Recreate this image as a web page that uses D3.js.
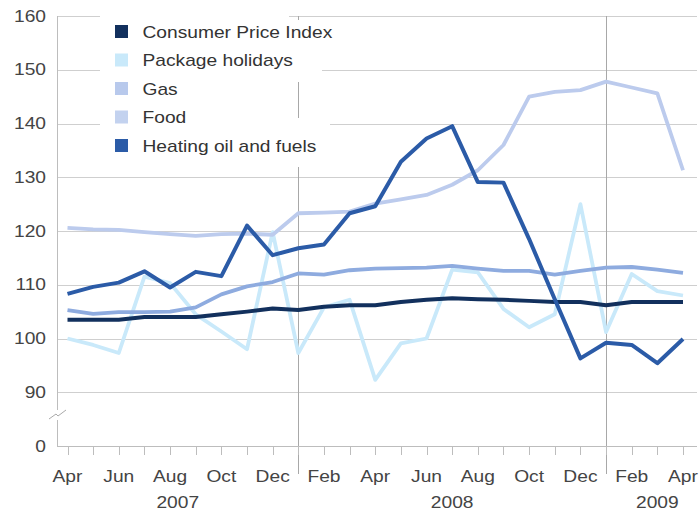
<!DOCTYPE html>
<html>
<head>
<meta charset="utf-8">
<script src="https://cdn.jsdelivr.net/npm/d3@7"></script>
<style>
  body { margin: 0; background: #fff; }
  text { font-family: "Liberation Sans", Arial, sans-serif; }
</style>
</head>
<body>
<script>
let width = 699;
let height = 515;

// Apr 2007 .. Apr 2009, monthly
let months = ['Apr','May','Jun','Jul','Aug','Sep','Oct','Nov','Dec','Jan','Feb','Mar',
              'Apr','May','Jun','Jul','Aug','Sep','Oct','Nov','Dec','Jan','Feb','Mar','Apr'];
// month index where each year starts / ends on the axis
let years = [{label: '2007', from: -0.4, to: 9}, {label: '2008', from: 9, to: 21}, {label: '2009', from: 21, to: 25}];
let yTicks = [90, 100, 110, 120, 130, 140, 150, 160];

let cpi = [103.5, 103.5, 103.5, 104, 104, 104, 104.5, 105, 105.6, 105.3, 105.9, 106.2, 106.2,
           106.8, 107.2, 107.5, 107.3, 107.2, 107, 106.8, 106.8, 106.2, 106.8, 106.8, 106.8];
let holidays = [100, 98.8, 97.3, 111.5, 110.3, 104.5, 101.3, 98, 119.8, 97.3, 105.8, 107.2, 92.3,
                99.1, 100, 112.8, 112.3, 105.5, 102.1, 104.5, 125, 101.2, 112, 108.8, 108];
let gas = [120.6, 120.3, 120.2, 119.8, 119.4, 119.1, 119.4, 119.5, 119.3, 123.3, 123.4, 123.6, 125.1,
           125.9, 126.7, 128.6, 131.3, 136, 145, 145.9, 146.2, 147.8, 146.7, 145.6, 131.3];
let food = [105.3, 104.6, 104.9, 104.9, 105, 105.8, 108.2, 109.7, 110.5, 112.1, 111.9, 112.7, 113,
            113.1, 113.2, 113.5, 113, 112.6, 112.6, 111.9, 112.6, 113.2, 113.3, 112.8, 112.2];
let heating = [108.3, 109.6, 110.4, 112.5, 109.5, 112.4, 111.6, 121, 115.5, 116.8, 117.5, 123.3, 124.6,
               132.9, 137.2, 139.5, 129.1, 129, 118.5, 107.3, 96.3, 99.2, 98.8, 95.4, 99.9];

let seriesNames = ['Consumer Price Index', 'Package holidays', 'Gas', 'Food', 'Heating oil and fuels'];
let seriesData = [cpi, holidays, gas, food, heating];
let seriesColors = ['#12305d', '#c9e9fa', '#bccbed', '#8eabdf', '#2b5ba7'];
let swatchColors = ['#12305d', '#c9e9fa', '#b8c9ec', '#c3d2ef', '#2b5ba7'];
// drawing order (back to front)
let drawOrder = [1, 2, 3, 0, 4];

let plotLeft = 57, plotRight = 697, plotTop = 16, plotBottom = 446;
let fontSize = 16, stretch = 1.2;   // text in the original is a little wide

let svg = d3.select('body').append('svg')
            .attr('width', width)
            .attr('height', height);

let xScale = d3.scaleLinear().domain([0, 24]).range([67.5, 683]);
// broken axis: the '0' tick sits where 80 would be
let yScale = d3.scaleLinear().domain([80, 160]).range([plotBottom, plotTop]);

function placeText(sel, x, y) {
    sel.attr('transform', function(d, i) {
        return 'translate(' + x(d, i) + ',' + y(d, i) + ') scale(' + stretch + ',1)';
    });
}

// horizontal gridlines
svg.append('g').selectAll('line')
    .data(yTicks)
    .enter()
    .append('line')
    .attr('x1', plotLeft)
    .attr('x2', plotRight)
    .attr('y1', function(d) { return Math.round(yScale(d)) + 0.5; })
    .attr('y2', function(d) { return Math.round(yScale(d)) + 0.5; })
    .attr('stroke', '#cfcfcf')
    .attr('stroke-width', 1.2);

// year dividers at January
svg.append('g').selectAll('line')
    .data([9, 21])
    .enter()
    .append('line')
    .attr('x1', function(d) { return Math.round(xScale(d)) + 0.5; })
    .attr('x2', function(d) { return Math.round(xScale(d)) + 0.5; })
    .attr('y1', plotTop)
    .attr('y2', 474)
    .attr('stroke', '#a8a8a8')
    .attr('stroke-width', 1);

// white patches behind the legend
let patches = [[100, 8, 189, 12], [100, 20, 242, 26], [100, 46, 222, 36], [100, 82, 100, 36], [100, 118, 230, 49]];
svg.append('g').selectAll('rect')
    .data(patches)
    .enter()
    .append('rect')
    .attr('x', function(d) { return d[0]; })
    .attr('y', function(d) { return d[1]; })
    .attr('width', function(d) { return d[2]; })
    .attr('height', function(d) { return d[3]; })
    .attr('fill', '#fff');

// y axis line + bottom axis line
svg.append('line')
    .attr('x1', plotLeft + 0.5).attr('x2', plotLeft + 0.5)
    .attr('y1', plotTop).attr('y2', plotBottom)
    .attr('stroke', '#bdbdbd');
svg.append('line')
    .attr('x1', plotLeft).attr('x2', plotRight)
    .attr('y1', plotBottom + 0.5).attr('y2', plotBottom + 0.5)
    .attr('stroke', '#bdbdbd');

// axis break mark
svg.append('rect').attr('x', plotLeft - 3).attr('y', 410).attr('width', 7).attr('height', 10).attr('fill', '#fff');
svg.append('path')
    .attr('d', 'M49,419 L56,414 L58,416 L66,410')
    .attr('fill', 'none')
    .attr('stroke', '#aaa')
    .attr('stroke-width', 1);

// month ticks
svg.append('g').selectAll('line')
    .data(d3.range(months.length))
    .enter()
    .append('line')
    .attr('x1', function(d) { return Math.round(xScale(d)) + 0.5; })
    .attr('x2', function(d) { return Math.round(xScale(d)) + 0.5; })
    .attr('y1', plotBottom)
    .attr('y2', plotBottom + 9)
    .attr('stroke', '#bdbdbd');

// y labels
let yLabels = [{v: 80, t: '0'}].concat(yTicks.map(function(d) { return {v: d, t: String(d)}; }));
svg.append('g').selectAll('text')
    .data(yLabels)
    .enter()
    .append('text')
    .call(placeText, function() { return 46; }, function(d) { return yScale(d.v) + 5.5; })
    .attr('text-anchor', 'end')
    .attr('font-size', fontSize)
    .attr('fill', '#444')
    .text(function(d) { return d.t; });

// month labels every other month
svg.append('g').selectAll('text')
    .data(d3.range(0, months.length, 2))
    .enter()
    .append('text')
    .call(placeText, function(d) { return xScale(d); }, function() { return 482; })
    .attr('text-anchor', 'middle')
    .attr('font-size', fontSize)
    .attr('fill', '#444')
    .text(function(d) { return months[d]; });

// year labels, centred in each year's span of the axis
svg.append('g').selectAll('text')
    .data(years)
    .enter()
    .append('text')
    .call(placeText, function(d) { return (xScale(d.from) + xScale(d.to)) / 2; },
          function() { return 508; })
    .attr('text-anchor', 'middle')
    .attr('font-size', fontSize)
    .attr('fill', '#444')
    .text(function(d) { return d.label; });

// series lines
let line = d3.line()
    .x(function(d, i) { return xScale(i); })
    .y(function(d) { return yScale(d); });

svg.append('g').selectAll('path')
    .data(drawOrder)
    .enter()
    .append('path')
    .attr('d', function(k) { return line(seriesData[k]); })
    .attr('fill', 'none')
    .attr('stroke', function(k) { return seriesColors[k]; })
    .attr('stroke-width', function(k) { return k === 0 || k === 4 ? 4 : 3.8; })
    .attr('stroke-linejoin', 'round');

// legend
let legend = svg.append('g').selectAll('g')
    .data(seriesNames)
    .enter()
    .append('g')
    .attr('transform', function(d, i) { return 'translate(115,' + (31.5 + i * 28.5) + ')'; });

legend.append('rect')
    .attr('x', 0).attr('y', -6.5)
    .attr('width', 13).attr('height', 13)
    .attr('fill', function(d, i) { return swatchColors[i]; });

legend.append('text')
    .call(placeText, function() { return 27.5; }, function() { return 6; })
    .attr('font-size', fontSize)
    .attr('fill', '#333')
    .text(function(d) { return d; });
</script>
</body>
</html>
